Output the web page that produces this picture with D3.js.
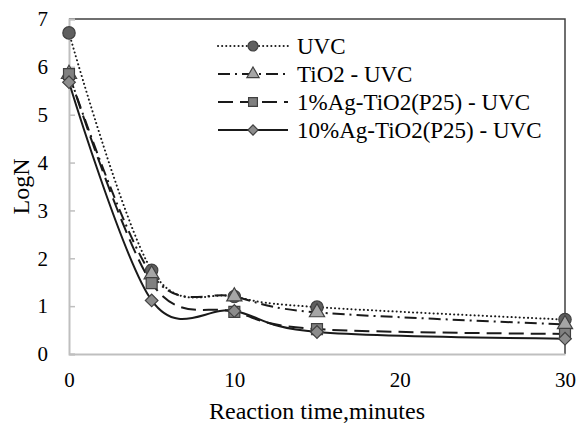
<!DOCTYPE html>
<html>
<head>
<meta charset="utf-8">
<script src="https://cdn.jsdelivr.net/npm/d3@7"></script>
<style>
  body { margin: 0; background: #fff; }
</style>
</head>
<body>
<div id="chart"></div>
<script>
// data
const times = [0, 5, 10, 15, 30];
const uvc = [6.71, 1.75, 1.2, 0.98, 0.72];
const tio2 = [5.85, 1.66, 1.2, 0.87, 0.62];
const ag1 = [5.85, 1.48, 0.88, 0.52, 0.42];
const ag10 = [5.68, 1.12, 0.9, 0.46, 0.32];
const seriesNames = ['UVC', 'TiO2 - UVC', '1%Ag-TiO2(P25) - UVC', '10%Ag-TiO2(P25) - UVC'];
const xTicks = [0, 10, 20, 30];
const yTicks = [0, 1, 2, 3, 4, 5, 6, 7];

const FONT = '"Liberation Serif", "Times New Roman", "DejaVu Serif", serif';
const W = 579, H = 429;
const space = { top: 19, right: 14, bottom: 75, left: 69 };
const w = W - space.left - space.right,
  h = H - space.top - space.bottom;

const svg = d3.select('#chart')
  .append('svg')
  .attr('width', W)
  .attr('height', H);

const g = svg.append('g')
  .attr('transform', `translate(${space.left}, ${space.top})`);

const xScale = d3.scaleLinear().domain([0, 30]).range([0, w]);
const yScale = d3.scaleLinear().domain([0, 7]).range([h, 0]);

// top + right border of plot area
g.append('path')
  .attr('d', `M0,0H${w}V${h}`)
  .attr('fill', 'none')
  .attr('stroke', '#404040')
  .attr('stroke-width', 1.5);

// axes
const yAxis = d3.axisLeft(yScale).tickValues(yTicks).tickFormat(d3.format('d')).tickSize(-6).tickPadding(21);
const xAxis = d3.axisBottom(xScale).tickValues(xTicks).tickFormat(d3.format('d')).tickSize(0).tickPadding(18);

const gy = g.append('g').call(yAxis).attr('font-family', null);
gy.select('.domain').attr('stroke', '#bfbfbf').attr('stroke-width', 2);
gy.selectAll('.tick line').attr('stroke', '#bfbfbf').attr('stroke-width', 1.5);
gy.selectAll('.tick text').style('font-family', FONT).style('font-size', '21px').attr('fill', '#000');

const gx = g.append('g').attr('transform', `translate(0, ${h})`).call(xAxis).attr('font-family', null);
gx.select('.domain').attr('stroke', '#bfbfbf').attr('stroke-width', 2);
gx.selectAll('.tick text').style('font-family', FONT).style('font-size', '21px').attr('fill', '#000');

// axis titles
svg.append('text')
  .text('Reaction time,minutes')
  .attr('x', space.left + w / 2)
  .attr('y', 419)
  .attr('text-anchor', 'middle')
  .style('font-family', FONT)
  .style('font-size', '24px');

svg.append('text')
  .text('LogN')
  .attr('transform', `translate(29, ${space.top + h / 2}) rotate(-90)`)
  .attr('text-anchor', 'middle')
  .style('font-family', FONT)
  .style('font-size', '24px');

// series styles
const styles = [
  { vals: uvc, dash: '0.1,4', cap: 'round', marker: d3.symbolCircle, size: 120, rot: 0, fill: '#5f5f5f' },
  { vals: tio2, dash: '12,5,2,5', cap: 'butt', marker: d3.symbolTriangle, size: 100, rot: 0, fill: '#a6a6a6' },
  { vals: ag1, dash: '15,7', cap: 'butt', marker: d3.symbolSquare, size: 120, rot: 0, fill: '#808080' },
  { vals: ag10, dash: null, cap: 'butt', marker: d3.symbolSquare, size: 80, rot: 45, fill: '#8c8c8c' }
];

const line = d3.line()
  .x(d => xScale(d[0]))
  .y(d => yScale(d[1]))
  .curve(d3.curveCatmullRom.alpha(0));

styles.forEach(s => {
  const pts = times.map((t, i) => [t, s.vals[i]]);
  g.append('path')
    .datum(pts)
    .attr('d', line)
    .attr('fill', 'none')
    .attr('stroke', '#1a1a1a')
    .attr('stroke-width', 2)
    .attr('stroke-linecap', s.cap)
    .attr('stroke-dasharray', s.dash);
});

styles.forEach(s => {
  const pts = times.map((t, i) => [t, s.vals[i]]);
  g.selectAll(null)
    .data(pts)
    .enter()
    .append('path')
    .attr('transform', d => `translate(${xScale(d[0])}, ${yScale(d[1])}) rotate(${s.rot})`)
    .attr('d', d3.symbol().type(s.marker).size(s.size))
    .attr('fill', s.fill)
    .attr('stroke', '#404040')
    .attr('stroke-width', 1.2);
});

// legend
const legend = svg.append('g').attr('transform', 'translate(218, 46)');
styles.forEach((s, i) => {
  const row = legend.append('g').attr('transform', `translate(0, ${i * 28})`);
  row.append('line')
    .attr('x1', 0).attr('x2', 70)
    .attr('stroke', '#1a1a1a')
    .attr('stroke-width', 2)
    .attr('stroke-linecap', s.cap)
    .attr('stroke-dasharray', s.dash);
  row.append('path')
    .attr('transform', `translate(35, 0) rotate(${s.rot})`)
    .attr('d', d3.symbol().type(s.marker).size(s.size * 0.65))
    .attr('fill', s.fill)
    .attr('stroke', '#404040')
    .attr('stroke-width', 1.2);
  row.append('text')
    .text(seriesNames[i])
    .attr('x', 79)
    .attr('y', 8)
    .style('font-family', FONT)
    .style('font-size', '23px');
});
</script>
</body>
</html>
